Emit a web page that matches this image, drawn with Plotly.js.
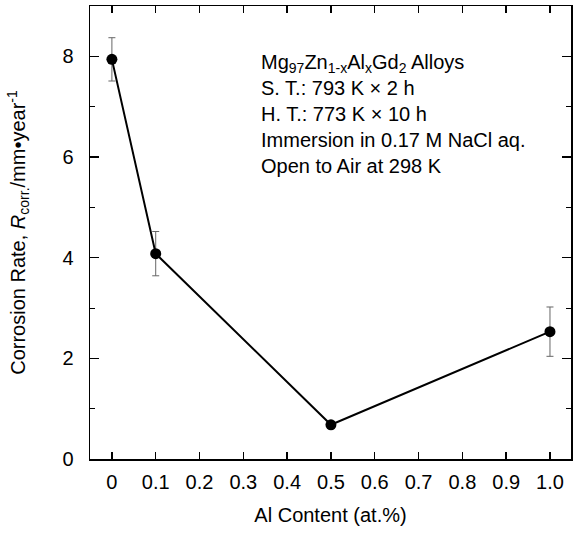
<!DOCTYPE html>
<html>
<head>
<meta charset="utf-8">
<script src="https://cdn.plot.ly/plotly-3.0.1.min.js"></script>
<style>html,body{margin:0;padding:0;background:#fff;}#chart{width:576px;height:535px;}</style>
</head>
<body>
<div id="chart"></div>
<script>
const alContent = [0, 0.1, 0.5, 1.0];
const corrosionRate = [7.94, 4.08, 0.68, 2.53];
const errorRate = [0.43, 0.44, 0, 0.49];
const xTickVals = [0, 0.1, 0.2, 0.3, 0.4, 0.5, 0.6, 0.7, 0.8, 0.9, 1.0];
const xTickText = ["0", "0.1", "0.2", "0.3", "0.4", "0.5", "0.6", "0.7", "0.8", "0.9", "1.0"];
const yTickVals = [0, 2, 4, 6, 8];
const yTickText = ["0", "2", "4", "6", "8"];

const font = "Liberation Sans, Arial, sans-serif";

const trace = {
  x: alContent,
  y: corrosionRate,
  type: "scatter",
  mode: "lines+markers",
  line: {color: "#000", width: 2},
  marker: {color: "#000", size: 11},
  error_y: {type: "data", array: errorRate, visible: true, color: "#666", thickness: 1, width: 3.5},
  showlegend: false
};

const layout = {
  width: 576, height: 535,
  margin: {l: 90, r: 5, t: 6, b: 76},
  paper_bgcolor: "#fff", plot_bgcolor: "#fff",
  font: {family: font, size: 20, color: "#000"},
  xaxis: {
    range: [-0.05, 1.048],
    tickvals: xTickVals, ticktext: xTickText,
    ticks: "inside", ticklen: 7, tickwidth: 1.5, tickcolor: "#000",
    ticklabelstandoff: 4,
    showline: true, linecolor: "#000", linewidth: 1.5, mirror: "allticks",
    showgrid: false, zeroline: false,
    tickfont: {family: font, size: 20},
    title: {text: "Al Content (at.%)", font: {family: font, size: 20}, standoff: 16}
  },
  yaxis: {
    range: [0, 9],
    tickvals: yTickVals, ticktext: yTickText,
    ticks: "inside", ticklen: 9, tickwidth: 1.5, tickcolor: "#000",
    ticklabelstandoff: 11,
    minor: {dtick: 1, ticks: "inside", ticklen: 5, tickwidth: 1, tickcolor: "#000"},
    showline: true, linecolor: "#000", linewidth: 1.5, mirror: "allticks",
    showgrid: false, zeroline: false,
    tickfont: {family: font, size: 20},
    title: {text: "Corrosion Rate, <i>R</i><sub>corr.</sub>/mm•year<sup>-1</sup>", font: {family: font, size: 20}, standoff: 31}
  },
  annotations: [{
    xref: "paper", yref: "paper", x: 0.352, y: 0.905, xanchor: "left", yanchor: "top",
    align: "left", showarrow: false,
    font: {family: font, size: 20, color: "#000"},
    text: "Mg<sub>97</sub>Zn<sub>1-x</sub>Al<sub>x</sub>Gd<sub>2</sub> Alloys<br>S. T.: 793 K × 2 h<br>H. T.: 773 K × 10 h<br>Immersion in 0.17 M NaCl aq.<br>Open to Air at 298 K"
  }]
};

Plotly.newPlot("chart", [trace], layout, {displayModeBar: false, staticPlot: true});
</script>
</body>
</html>
